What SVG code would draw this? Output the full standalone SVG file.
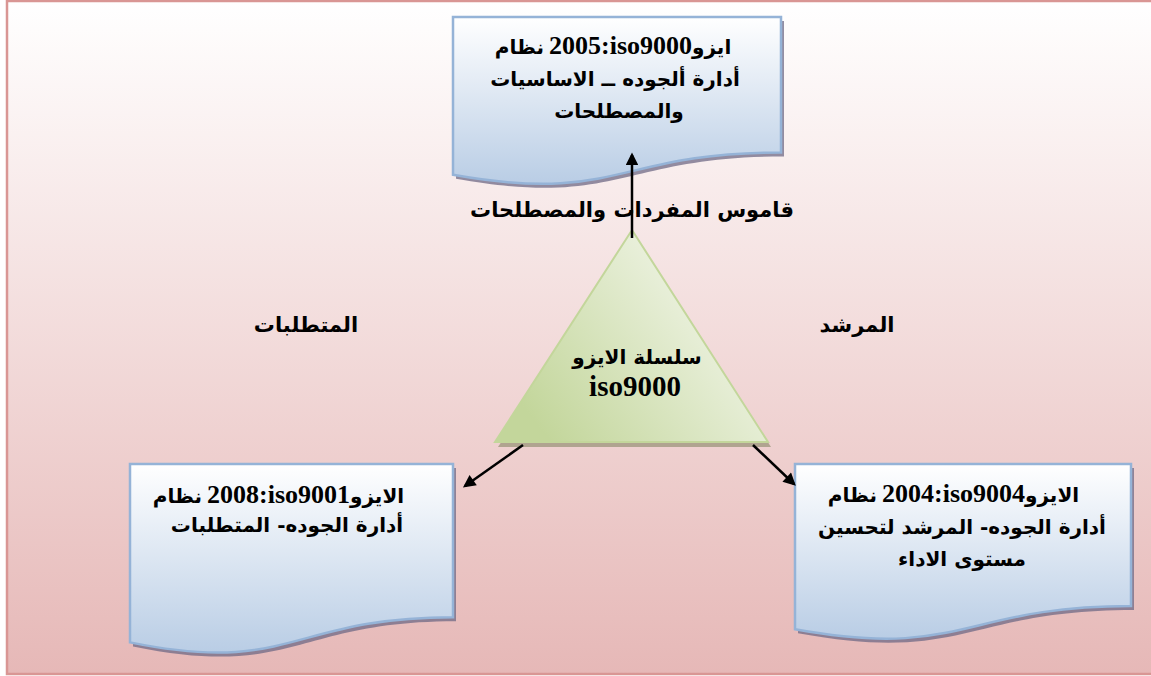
<svg xmlns="http://www.w3.org/2000/svg" width="1151" height="676" viewBox="0 0 1151 676">
<defs>
<linearGradient id="bg" x1="0" y1="0" x2="0" y2="1">
<stop offset="0" stop-color="#ffffff"/>
<stop offset="1" stop-color="#e6b8b7"/>
</linearGradient>
<linearGradient id="doc" x1="0" y1="0" x2="0" y2="1">
<stop offset="0" stop-color="#ffffff"/>
<stop offset="1" stop-color="#b9cde5"/>
</linearGradient>
<linearGradient id="tri" x1="0" y1="1" x2="1" y2="0.4">
<stop offset="0.15" stop-color="#c3d69b"/>
<stop offset="0.85" stop-color="#ebf1de"/>
</linearGradient>
<marker id="ah" viewBox="0 0 10 10" refX="8" refY="5" markerWidth="6" markerHeight="5" orient="auto" markerUnits="strokeWidth">
<path d="M0,0 L10,5 L0,10 Z" fill="#000"/>
</marker>
<style>
.a{font-family:'DejaVu Sans','Liberation Sans',sans-serif;font-weight:bold;font-size:20px;fill:#000;text-anchor:middle}
.l{font-family:'Liberation Serif',serif;font-weight:bold;font-size:26px;fill:#000;text-anchor:middle}
.s{text-anchor:start}
.e{text-anchor:end}
.docs{fill:#6f6a86;opacity:0.75}
.docb{fill:url(#doc);stroke:#95b3d7;stroke-width:2.5}
.con{stroke:#000;stroke-width:2.5;fill:none;marker-end:url(#ah)}
</style>
</defs>
<rect x="7" y="1" width="1146" height="673" fill="url(#bg)" stroke="#d99694" stroke-width="2.5"/>

<g id="top-doc">
<path class="docs" transform="translate(3,4)" d="M453,17 H781 V152.5 C617,152.5 617,204.2 453,174.8 Z"/>
<path class="docb" d="M453,17 H781 V152.5 C617,152.5 617,204.2 453,174.8 Z"/>
<text class="a e" x="544" y="54">نظام</text>
<text class="l" x="620.5" y="54">2005:iso9000</text>
<text class="a s" x="692" y="54">ايزو</text>
<text class="a" x="615" y="86">أدارة ألجوده ــ الاساسيات</text>
<text class="a" x="619" y="118">والمصطلحات</text>
</g>

<g id="label-dictionary">
<text class="a" font-size="21" style="font-size:21px" x="632" y="217">قاموس المفردات والمصطلحات</text>
</g>

<g id="label-requirements">
<text class="a" style="font-size:21px" x="306" y="332">المتطلبات</text>
</g>

<g id="label-guide">
<text class="a" style="font-size:21px" x="857" y="332">المرشد</text>
</g>

<g id="triangle">
<path transform="translate(3,5)" d="M632,230 L768,442 L495,442 Z" fill="#a0987f" opacity="0.8"/>
<path d="M632,230 L768,442 L495,442 Z" fill="url(#tri)" stroke="#c3d69b" stroke-width="2"/>
<text class="a" x="637" y="364">سلسلة الايزو</text>
<text class="l" style="font-size:29px" x="635" y="396">iso9000</text>
</g>

<g id="left-doc">
<path class="docs" transform="translate(3,4)" d="M130,464 H453 V617.2 C291.5,617.2 291.5,675.5 130,642.4 Z"/>
<path class="docb" d="M130,464 H453 V617.2 C291.5,617.2 291.5,675.5 130,642.4 Z"/>
<text class="a e" x="202" y="503">نظام</text>
<text class="l" x="278.5" y="503">2008:iso9001</text>
<text class="a s" x="350" y="503">الايزو</text>
<text class="a" x="287" y="532">أدارة  الجوده- المتطلبات</text>
</g>

<g id="right-doc">
<path class="docs" transform="translate(3,4)" d="M795,464 H1131 V606 C963,606 963,660 795,629.3 Z"/>
<path class="docb" d="M795,464 H1131 V606 C963,606 963,660 795,629.3 Z"/>
<text class="a e" x="877" y="502">نظام</text>
<text class="l" x="953.5" y="502">2004:iso9004</text>
<text class="a s" x="1025" y="502">الايزو</text>
<text class="a" x="962" y="534">أدارة الجوده- المرشد لتحسين</text>
<text class="a" x="962" y="566">مستوى الاداء</text>
</g>

<g id="connectors">
<line class="con" x1="632" y1="238" x2="632" y2="155"/>
<line class="con" x1="523" y1="445" x2="465" y2="486"/>
<line class="con" x1="753" y1="445" x2="794" y2="484"/>
</g>
</svg>
